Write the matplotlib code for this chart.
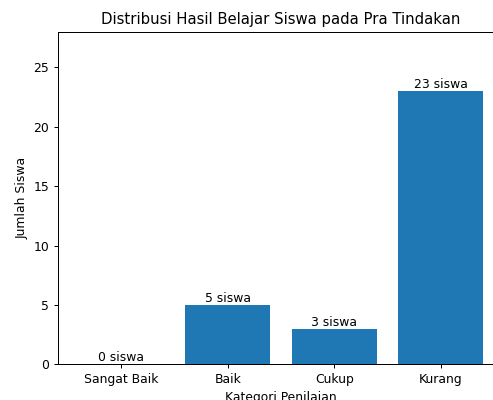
import matplotlib
matplotlib.use("Agg")
import matplotlib.pyplot as plt

kategori = ["Sangat Baik", "Baik", "Cukup", "Kurang"]
jumlah_siswa = [0, 5, 3, 23]

# reference looks like a larger figure scaled down, so render at a lower dpi
DPI = 89
fig = plt.figure(figsize=(493 / DPI, 400 / DPI), dpi=DPI)
# axes run past the right edge, as in the reference crop
ax = fig.add_axes([57.6 / 493, (400 - 364.3) / 400, 447 / 493, (364.3 - 31.7) / 400])

bars = ax.bar(kategori, jumlah_siswa, color="#1f77b4", width=0.8)
ax.bar_label(bars, labels=[f"{v} siswa" for v in jumlah_siswa])

ax.set_xlim(-0.6, 3.6)
ax.set_ylim(0, 28)
ax.set_title("Distribusi Hasil Belajar Siswa pada Pra Tindakan")
ax.set_xlabel("Kategori Penilaian")
ax.set_ylabel("Jumlah Siswa")

fig.savefig("out.png", dpi=DPI)
